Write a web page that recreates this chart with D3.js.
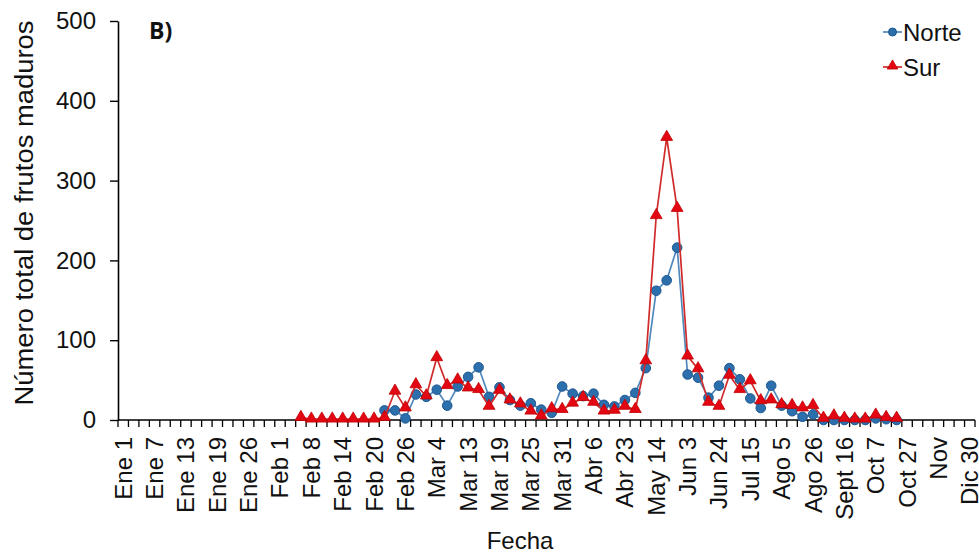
<!DOCTYPE html>
<html>
<head>
<meta charset="utf-8">
<script src="https://cdn.jsdelivr.net/npm/d3@7"></script>
<style>
  html, body { margin: 0; padding: 0; background: #fff; }
  svg { display: block; font-family: "Liberation Sans", Arial, sans-serif; }
</style>
</head>
<body>
<svg id="chart" width="979" height="555"></svg>
<script>
// Sampling dates (82 categories); only every third one carries a label
const categoryCount = 82;
const tickLabels = [
  "Ene 1", "Ene 7", "Ene 13", "Ene 19", "Ene 26", "Feb 1", "Feb 8", "Feb 14",
  "Feb 20", "Feb 26", "Mar 4", "Mar 13", "Mar 19", "Mar 25", "Mar 31", "Abr 6",
  "Abr 23", "May 14", "Jun 3", "Jun 24", "Jul 15", "Ago 5", "Ago 26", "Sept 16",
  "Oct 7", "Oct 27", "Nov", "Dic 30"
];
const labelStep = 3;

// Total ripe fruits per sampling date, starting at category index
const norteStart = 25;
const norteValues = [
  12, 12, 2, 32, 29, 38, 18, 42, 54, 66,
  29, 41, 25, 18, 21, 13, 9, 42, 33, 30,
  33, 19, 17, 25, 34, 65, 162, 175, 216, 57,
  53, 28, 43, 65, 51, 27, 15, 43, 18, 11,
  4, 7, 0, 0, 0, 0, 0, 2, 1, 0
];
const surStart = 17;
const surValues = [
  3, 1, 1, 1, 1, 1, 1, 1,
  3, 36, 15, 44, 30, 78, 43, 50, 40, 38,
  17, 37, 25, 20, 11, 5, 14, 13, 21, 28,
  22, 11, 12, 17, 13, 74, 256, 354, 265, 80,
  64, 22, 17, 56, 38, 49, 24, 25, 19, 18,
  15, 18, 2, 5, 2, 1, 1, 6, 3, 2
];
const yTicks = [0, 100, 200, 300, 400, 500];

const seriesList = [
  { name: "Norte", start: norteStart, values: norteValues, line: "#5289bd", fill: "#2c6fad", stroke: "#1d5690", shape: "circle" },
  { name: "Sur", start: surStart, values: surValues, line: "#d02a2a", fill: "#e30613", stroke: "#c00000", shape: "triangle" }
];

const svg = d3.select("#chart");
const plotLeft = 118, plotRight = 975, plotTop = 21, plotBottom = 420;

const x = d3.scaleBand().domain(d3.range(categoryCount)).range([plotLeft, plotRight]).paddingInner(0).paddingOuter(0);
const y = d3.scaleLinear().domain([0, 500]).range([plotBottom, plotTop]);

const cx = i => x(i) + x.bandwidth() / 2;

// Y axis
const yAxis = d3.axisLeft(y).tickValues(yTicks).tickSize(8).tickSizeOuter(0).tickPadding(14);
const gy = svg.append("g").attr("transform", `translate(${plotLeft},0)`).call(yAxis);
gy.select(".domain").attr("stroke", "#000").attr("stroke-width", 1.6);
gy.selectAll(".tick line").attr("stroke", "#000").attr("stroke-width", 1.4);
gy.selectAll(".tick text").attr("font-size", 24).attr("fill", "#111")
  .attr("font-family", "Liberation Sans, Arial, sans-serif");

// X axis: tick marks at every category boundary
const gx = svg.append("g");
gx.append("line").attr("x1", plotLeft).attr("x2", plotRight).attr("y1", plotBottom).attr("y2", plotBottom)
  .attr("stroke", "#000").attr("stroke-width", 1.6);
gx.selectAll("line.tk").data(d3.range(categoryCount + 1)).join("line")
  .attr("class", "tk")
  .attr("x1", i => plotLeft + i * x.bandwidth()).attr("x2", i => plotLeft + i * x.bandwidth())
  .attr("y1", plotBottom).attr("y2", plotBottom + 7)
  .attr("stroke", "#000").attr("stroke-width", 1.3);
gx.selectAll("text").data(tickLabels).join("text")
  .attr("transform", (d, k) => `translate(${cx(k * labelStep) + 8.5},${plotBottom + 17}) rotate(-90)`)
  .attr("text-anchor", "end")
  .attr("font-size", 24)
  .attr("fill", "#111")
  .text(d => d);

// Axis titles
svg.append("text")
  .attr("transform", `translate(33,213) rotate(-90)`)
  .attr("text-anchor", "middle")
  .attr("font-size", 25).attr("fill", "#111")
  .attr("textLength", 385).attr("lengthAdjust", "spacingAndGlyphs")
  .text("Número total de frutos maduros");
svg.append("text")
  .attr("x", 520).attr("y", 549)
  .attr("text-anchor", "middle")
  .attr("font-size", 24).attr("fill", "#111")
  .text("Fecha");

// Panel letter
svg.append("text")
  .attr("x", 149).attr("y", 39)
  .attr("font-size", 23).attr("font-weight", "bold").attr("fill", "#111")
  .attr("font-family", "Open Sans, Liberation Sans, sans-serif")
  .text("B)");

const triangle = d3.symbol().type(d3.symbolTriangle).size(60);

// Series lines and markers
seriesList.forEach(s => {
  const pts = s.values.map((v, k) => ({ i: s.start + k, v }));
  const line = d3.line().x(d => cx(d.i)).y(d => y(d.v));
  const g = svg.append("g");
  g.append("path").datum(pts).attr("d", line)
    .attr("fill", "none").attr("stroke", s.line).attr("stroke-width", 1.7);
  if (s.shape === "circle") {
    g.selectAll("circle").data(pts).join("circle")
      .attr("cx", d => cx(d.i)).attr("cy", d => y(d.v)).attr("r", 4.8)
      .attr("fill", s.fill).attr("stroke", s.stroke).attr("stroke-width", 1);
  } else {
    g.selectAll("path.m").data(pts).join("path").attr("class", "m")
      .attr("d", triangle)
      .attr("transform", d => `translate(${cx(d.i)},${y(d.v) - 0.5})`)
      .attr("fill", s.fill).attr("stroke", s.stroke).attr("stroke-width", 0.8);
  }
});

// Legend
const legend = svg.append("g").attr("transform", "translate(883,32)");
seriesList.forEach((s, k) => {
  const row = legend.append("g").attr("transform", `translate(0,${k * 35})`);
  row.append("line").attr("x1", 0).attr("x2", 19).attr("y1", 0).attr("y2", 0)
    .attr("stroke", s.line).attr("stroke-width", 1.7);
  if (s.shape === "circle") {
    row.append("circle").attr("cx", 9.5).attr("cy", 0).attr("r", 4)
      .attr("fill", s.fill).attr("stroke", s.stroke);
  } else {
    row.append("path").attr("d", d3.symbol().type(d3.symbolTriangle).size(48))
      .attr("transform", "translate(9.5,-1)").attr("fill", s.fill).attr("stroke", s.stroke).attr("stroke-width", 0.8);
  }
  row.append("text").attr("x", 20).attr("y", 9)
    .attr("font-size", 24).attr("fill", "#111").text(s.name);
});
</script>
</body>
</html>
